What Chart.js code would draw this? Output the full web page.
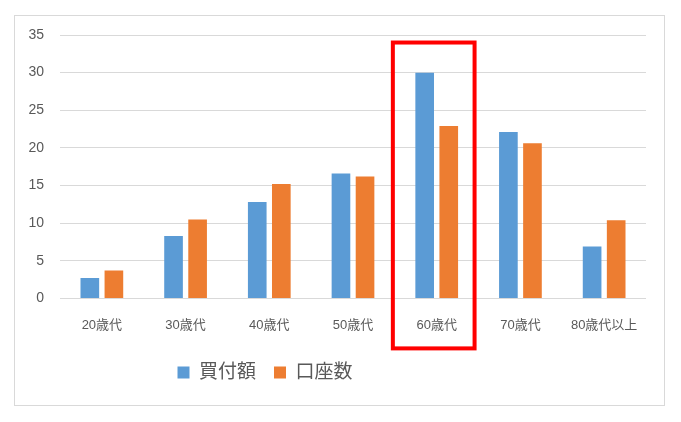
<!DOCTYPE html>
<html>
<head>
<meta charset="utf-8">
<script src="https://cdn.jsdelivr.net/npm/chart.js@4"></script>
<style>
  html, body { margin: 0; padding: 0; background: #ffffff; }
  #wrap { position: relative; width: 681px; height: 422px; }
  #frame { position: absolute; left: 14px; top: 15px; width: 649px; height: 389px; border: 1px solid #d9d9d9; box-sizing: content-box; }
  #c { position: absolute; left: 0; top: 0; }
</style>
</head>
<body>
<div id="wrap">
  <div id="frame"></div>
  <canvas id="c" width="681" height="422"></canvas>
</div>
<script>
const categories = ['20歳代', '30歳代', '40歳代', '50歳代', '60歳代', '70歳代', '80歳代以上'];
const seriesNames = ['買付額', '口座数'];
const purchaseAmount = [2.7, 8.3, 12.8, 16.6, 30.0, 22.1, 6.9];
const accountCount = [3.7, 10.5, 15.2, 16.2, 22.9, 20.6, 10.4];
const yTicks = [0, 5, 10, 15, 20, 25, 30, 35];
const highlightCategory = '60歳代';
const highlightTopValue = 34;

const FONT = '"Liberation Sans", "Noto Sans CJK JP", Arial, sans-serif';

const legendShift = {
  id: 'legendShift',
  afterLayout(chart) {
    const lg = chart.legend;
    if (!lg) return;
    const dx = -58, dy = -7;
    lg.left += dx; lg.right += dx;
    lg.top += dy; lg.bottom += dy;
  }
};

const highlightPlugin = {
  id: 'highlight',
  afterDraw(chart) {
    const xs = chart.scales.x, ys = chart.scales.y;
    const idx = categories.indexOf(highlightCategory);
    const step = xs.getPixelForValue(1) - xs.getPixelForValue(0);
    const cx = xs.getPixelForValue(idx) - 3;
    const left = cx - step / 2 + 1;
    const right = cx + step / 2 - 1;
    const top = ys.getPixelForValue(highlightTopValue);
    const bottom = chart.chartArea.bottom + 50;
    const ctx = chart.ctx;
    ctx.save();
    ctx.strokeStyle = '#ff0000';
    ctx.lineWidth = 4;
    ctx.strokeRect(left, top, right - left, bottom - top);
    ctx.restore();
  }
};

new Chart(document.getElementById('c'), {
  type: 'bar',
  data: {
    labels: categories,
    datasets: [
      { label: seriesNames[0], data: purchaseAmount, backgroundColor: '#5b9bd5', categoryPercentage: 0.575, barPercentage: 0.775 },
      { label: seriesNames[1], data: accountCount, backgroundColor: '#ed7d31', categoryPercentage: 0.575, barPercentage: 0.775 }
    ]
  },
  options: {
    responsive: false,
    animation: false,
    devicePixelRatio: 1,
    layout: { padding: { left: 0, right: 35, top: 35, bottom: 23 } },
    plugins: {
      tooltip: { enabled: false },
      legend: {
        position: 'bottom',
        labels: {
          color: '#595959',
          font: { family: FONT, size: 19 },
          boxWidth: 12,
          boxHeight: 12,
          padding: 18
        }
      }
    },
    scales: {
      x: {
        grid: { display: false, drawTicks: false },
        border: { display: false },
        ticks: { color: '#595959', font: { family: FONT, size: 13 }, padding: 19, maxRotation: 0, autoSkip: false }
      },
      y: {
        min: 0,
        max: 35,
        afterFit(scale) { scale.width = 60; },
        afterBuildTicks(scale) { scale.ticks = yTicks.map(v => ({ value: v })); },
        grid: { color: '#d9d9d9', drawTicks: false, lineWidth: 1 },
        border: { display: false },
        ticks: { color: '#595959', font: { family: FONT, size: 14 }, padding: 16 }
      }
    }
  },
  plugins: [legendShift, highlightPlugin]
});
</script>
</body>
</html>
